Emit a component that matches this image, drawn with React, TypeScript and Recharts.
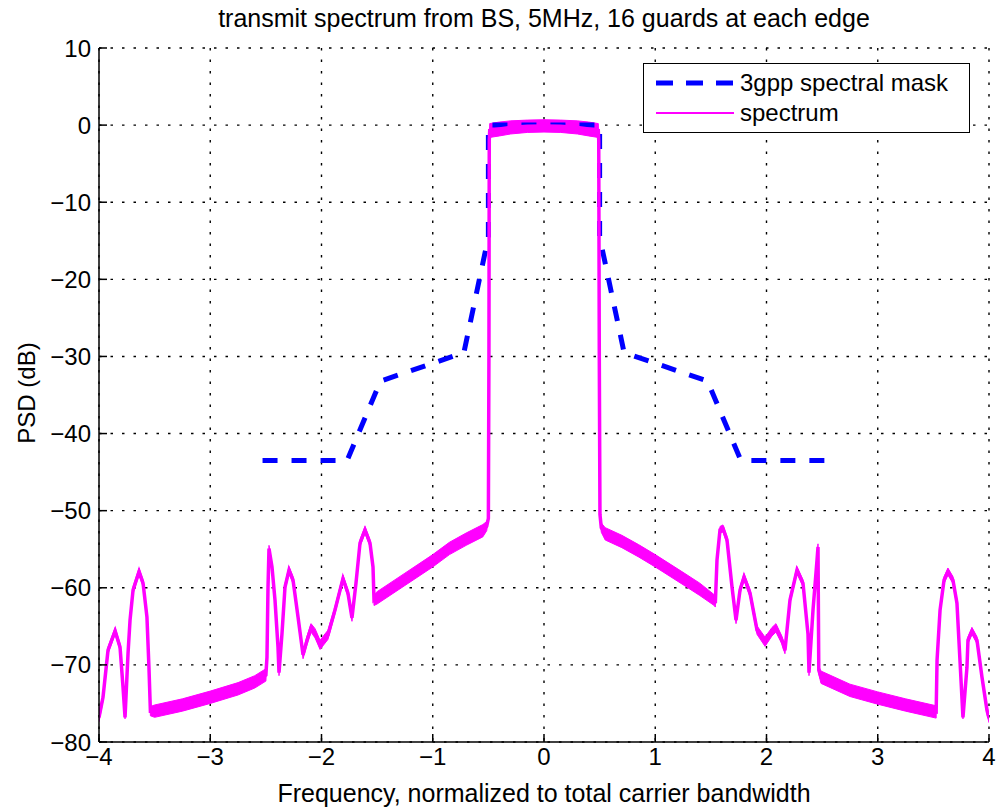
import React from 'react';
import { ComposedChart, Line, Area, XAxis, YAxis, CartesianGrid } from 'recharts';

const freqTicks = [-4, -3, -2, -1, 0, 1, 2, 3, 4];
const psdTicks = [-80, -70, -60, -50, -40, -30, -20, -10, 0, 10];

const titleText = 'transmit spectrum from BS, 5MHz, 16 guards at each edge';
const xLabelText = 'Frequency, normalized to total carrier bandwidth';
const yLabelText = 'PSD (dB)';
const maskName = '3gpp spectral mask';
const spectrumName = 'spectrum';

const maskFreq = [-2.53, -1.77, -1.47, -0.72, -0.5, -0.5, 0.5, 0.5, 0.72, 1.47, 1.77, 2.53];
const maskLevel = [-43.5, -43.5, -33.2, -29.5, -14.5, 0, 0, -14.5, -29.5, -33.2, -43.5, -43.5];

const spectrumFreq = [
  -4.0, -3.964, -3.919, -3.855, -3.811, -3.784, -3.766, -3.739, -3.721, -3.694, -3.64, -3.604, -3.569, -3.551, -3.538,
  -3.5, -3.25, -3.0, -2.75, -2.6, -2.5,
  -2.49, -2.481, -2.472, -2.445, -2.418, -2.391, -2.382, -2.355, -2.328, -2.292, -2.256, -2.211, -2.166, -2.13, -2.094,
  -2.058, -2.013, -1.942, -1.879, -1.807, -1.762, -1.726, -1.69, -1.654, -1.609, -1.564, -1.537, -1.528,
  -1.5, -1.25, -1.0, -0.85, -0.7, -0.55, -0.515, -0.5, -0.495, -0.492,
  -0.488, -0.4, -0.3, -0.15, 0.0, 0.15, 0.3, 0.4, 0.488,
  0.492, 0.497, 0.503, 0.515, 0.55, 0.7, 0.85, 1.0, 1.25, 1.4, 1.53,
  1.54, 1.555, 1.582, 1.609, 1.645, 1.69, 1.726, 1.762, 1.798, 1.852, 1.915, 1.987, 2.049, 2.085, 2.139, 2.166, 2.211,
  2.274, 2.328, 2.373, 2.382, 2.418, 2.454, 2.463, 2.47,
  2.49, 2.75, 3.0, 3.25, 3.525,
  3.533, 3.56, 3.596, 3.631, 3.676, 3.712, 3.739, 3.766, 3.802, 3.811, 3.847, 3.892, 3.937, 3.982, 4.0,
];
const spectrumLevel = [
  -76.8, -74.2, -68.1, -65.6, -67.7, -72.9, -76.8, -68.5, -64.2, -60.3, -57.9, -59.4, -63.8, -70.3, -76.0,
  -76.0, -75.2, -74.2, -73.1, -72.2, -71.3,
  -69.0, -60.0, -54.9, -57.3, -61.6, -67.7, -71.0, -65.9, -59.9, -57.7, -59.0, -63.8, -68.7, -66.8, -65.2,
  -65.9, -67.4, -66.1, -62.9, -58.8, -60.7, -63.9, -59.4, -54.2, -52.5, -54.2, -57.3, -61.6,
  -61.3, -58.9, -56.5, -54.9, -53.7, -52.6, -52.0, -51.0, -30.0, -2.0,
  -0.7, -0.5, -0.3, -0.15, -0.1, -0.15, -0.3, -0.5, -0.7,
  -2.0, -30.0, -50.5, -52.2, -53.0, -54.0, -55.2, -56.5, -58.8, -60.2, -61.6,
  -62.0, -56.4, -52.5, -52.3, -53.8, -59.9, -64.2, -60.3, -58.6, -60.7, -65.5, -67.0, -65.7, -65.2, -66.8, -68.1, -61.6,
  -57.7, -59.4, -66.0, -71.0, -62.9, -56.4, -54.7, -70.7,
  -71.6, -73.3, -74.3, -75.2, -76.1,
  -69.4, -62.9, -59.0, -57.9, -59.0, -62.0, -69.4, -76.8, -70.3, -66.8, -65.6, -66.8, -71.6, -75.9, -76.9,
];
const spectrumSpread = [
  0.6, 0.5, 0.45, 0.45, 0.45, 0.4, 0.2, 0.4, 0.45, 0.45, 0.45, 0.45, 0.45, 0.4, 0.6,
  0.8, 0.8, 0.8, 0.8, 0.8, 0.8,
  0.4, 0.4, 0.4, 0.45, 0.45, 0.4, 0.4, 0.45, 0.45, 0.45, 0.45, 0.5, 0.5, 0.55, 0.55,
  0.6, 0.6, 0.6, 0.5, 0.45, 0.45, 0.45, 0.45, 0.45, 0.45, 0.45, 0.45, 0.7,
  0.8, 0.8, 0.8, 0.8, 0.8, 0.8, 0.6, 0, 0, 0,
  0.9, 0.9, 0.85, 0.8, 0.8, 0.8, 0.85, 0.9, 0.9,
  0, 0, 0, 0.6, 0.8, 0.8, 0.8, 0.8, 0.8, 0.8, 0.7,
  0.5, 0.45, 0.45, 0.45, 0.45, 0.45, 0.45, 0.45, 0.45, 0.5, 0.55, 0.6, 0.55, 0.55, 0.5, 0.45, 0.45,
  0.45, 0.45, 0.4, 0.4, 0.4, 0.4, 0.4, 0.5,
  0.8, 0.8, 0.8, 0.8, 0.8,
  0.45, 0.45, 0.45, 0.45, 0.45, 0.45, 0.4, 0.2, 0.4, 0.45, 0.45, 0.45, 0.45, 0.5, 0.6,
];

const spectrumData = spectrumFreq.map((f, i) => ({
  f,
  level: spectrumLevel[i],
  band: [spectrumLevel[i] - spectrumSpread[i], spectrumLevel[i] + spectrumSpread[i]],
}));
const maskData = maskFreq.map((f, i) => ({ f, mask: maskLevel[i] }));

const FONT = '"Liberation Sans", Arial, Helvetica, sans-serif';
const W = 997;
const H = 809;
const PLOT_LEFT = 99;
const PLOT_RIGHT = 989;
const PLOT_TOP = 48;
const PLOT_BOTTOM = 742;
const X_AXIS_H = 30;
const Y_AXIS_W = 70;

const fmt = (v: number) => String(v).replace('-', '\u2212');

export default function App() {
  const tickStyle = { fill: '#000', fontSize: 24, fontFamily: FONT };
  return (
    <div style={{ position: 'absolute', left: 0, top: 0, width: W, height: H, background: '#fff', fontFamily: FONT }}>
      <ComposedChart
        width={W}
        height={H}
        data={spectrumData}
        margin={{ top: PLOT_TOP, right: W - PLOT_RIGHT, bottom: H - PLOT_BOTTOM - X_AXIS_H, left: PLOT_LEFT - Y_AXIS_W }}
      >
        <CartesianGrid stroke="#000" strokeWidth={1.4} strokeDasharray="2.5 9" />
        <XAxis
          dataKey="f"
          type="number"
          domain={[-4, 4]}
          ticks={freqTicks}
          allowDataOverflow
          interval={0}
          height={X_AXIS_H}
          tickSize={-8}
          tickMargin={14}
          stroke="#000"
          strokeWidth={1.5}
          tick={tickStyle}
          tickFormatter={fmt}
        />
        <XAxis
          xAxisId="top"
          orientation="top"
          dataKey="f"
          type="number"
          domain={[-4, 4]}
          ticks={freqTicks}
          allowDataOverflow
          interval={0}
          height={0}
          tickSize={-8}
          stroke="#000"
          strokeWidth={1.5}
          tick={false}
        />
        <YAxis
          type="number"
          domain={[-80, 10]}
          ticks={psdTicks}
          allowDataOverflow
          interval={0}
          width={Y_AXIS_W}
          tickSize={-8}
          tickMargin={16}
          stroke="#000"
          strokeWidth={1.5}
          tick={tickStyle}
          tickFormatter={fmt}
        />
        <YAxis
          yAxisId="right"
          orientation="right"
          type="number"
          domain={[-80, 10]}
          ticks={psdTicks}
          allowDataOverflow
          interval={0}
          width={0}
          tickSize={-8}
          stroke="#000"
          strokeWidth={1.5}
          tick={false}
        />
        <Line
          data={maskData}
          dataKey="mask"
          type="linear"
          stroke="#0000ff"
          strokeWidth={5}
          strokeDasharray="15 14"
          dot={false}
          activeDot={false}
          isAnimationActive={false}
        />
        <Area
          dataKey="band"
          type="linear"
          stroke="#ff00ff"
          strokeWidth={1}
          fill="#ff00ff"
          fillOpacity={1}
          dot={false}
          activeDot={false}
          isAnimationActive={false}
        />
        <Line
          dataKey="level"
          type="linear"
          stroke="#ff00ff"
          strokeWidth={3.5}
          dot={false}
          activeDot={false}
          isAnimationActive={false}
        />
      </ComposedChart>

      <div style={{ position: 'absolute', left: 544, top: 6, transform: 'translateX(-50%)', whiteSpace: 'nowrap', fontSize: 25, lineHeight: 1, color: '#000' }}>
        {titleText}
      </div>
      <div style={{ position: 'absolute', left: 544, top: 781, transform: 'translateX(-50%)', whiteSpace: 'nowrap', fontSize: 25, lineHeight: 1, color: '#000' }}>
        {xLabelText}
      </div>
      <div style={{ position: 'absolute', left: 27, top: 393, transform: 'translate(-50%, -50%) rotate(-90deg)', whiteSpace: 'nowrap', fontSize: 24, lineHeight: 1, color: '#000' }}>
        {yLabelText}
      </div>

      <div style={{ position: 'absolute', left: 643, top: 63, width: 327, height: 70, boxSizing: 'border-box', border: '1.5px solid #000', background: '#fff' }}>
        <svg width={100} height={70} style={{ position: 'absolute', left: 0, top: 0 }}>
          <line x1={12} y1={19} x2={90} y2={19} stroke="#0000ff" strokeWidth={5} strokeDasharray="17 13" />
          <line x1={12} y1={49} x2={90} y2={49} stroke="#ff00ff" strokeWidth={2} />
        </svg>
        <div style={{ position: 'absolute', left: 96, top: 7, fontSize: 24, lineHeight: 1, whiteSpace: 'nowrap', color: '#000' }}>{maskName}</div>
        <div style={{ position: 'absolute', left: 96, top: 37, fontSize: 24, lineHeight: 1, whiteSpace: 'nowrap', color: '#000' }}>{spectrumName}</div>
      </div>
    </div>
  );
}
